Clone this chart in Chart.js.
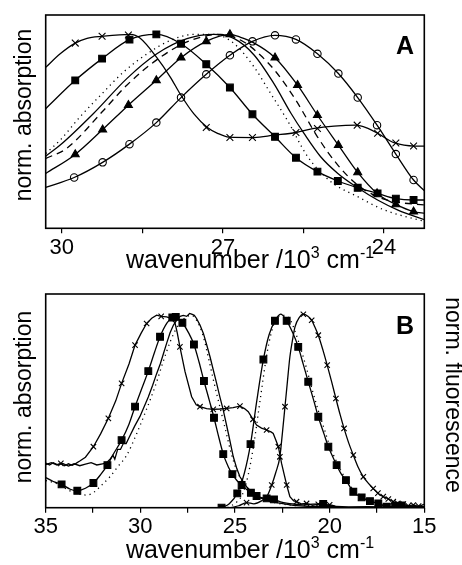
<!DOCTYPE html>
<html>
<head>
<meta charset="utf-8">
<title>Absorption and fluorescence spectra</title>
<script src="https://cdn.jsdelivr.net/npm/chart.js@4.4.1/dist/chart.umd.min.js"></script>
<style>
  html, body { margin: 0; padding: 0; background: #fff; }
  #wrap { position: relative; width: 462px; height: 565px; overflow: hidden; }
  .panel { position: absolute; left: 0; }
</style>
</head>
<body>
<div id="wrap">
  <canvas id="chartA" class="panel" width="462" height="280" style="top:0"></canvas>
  <canvas id="chartB" class="panel" width="462" height="285" style="top:280px"></canvas>
</div>
<script>
// ---- Panel A: absorption, wavenumber (10^3 cm-1) vs normalised absorption ----
const aTicks = [30, 28.5, 27, 25.5, 24];
const aTickLabels = ['30', '', '27', '', '24'];

const aCrossLine = [[30.30,0.83],[30.03,0.90],[29.75,0.955],[29.53,0.98],[29.25,0.99],[28.72,1.0],[28.54,0.98],[28.23,0.88],[27.98,0.78],[27.79,0.69],[27.54,0.59],[27.29,0.52],[27.10,0.49],[26.89,0.47],[26.42,0.468],[26.05,0.48],[25.64,0.494],[25.30,0.515],[24.93,0.527],[24.52,0.532],[24.30,0.515],[24.12,0.49],[23.80,0.44],[23.43,0.424],[23.23,0.424]];
const aCrossMarks = [[29.75,0.955],[29.25,0.99],[28.76,0.997],[27.31,0.52],[26.87,0.468],[26.45,0.468],[25.64,0.494],[25.24,0.515],[24.50,0.532],[24.12,0.49],[23.78,0.44],[23.45,0.424]];

const aSquareLine = [[30.30,0.617],[29.75,0.763],[29.25,0.875],[28.74,0.973],[28.24,1.0],[27.78,0.952],[27.31,0.846],[26.87,0.726],[26.45,0.588],[26.03,0.472],[25.64,0.364],[25.24,0.292],[24.86,0.244],[24.49,0.209],[24.12,0.180],[23.78,0.153],[23.45,0.146],[23.23,0.146]];
const aSquareMarks = [[29.75,0.763],[29.25,0.875],[28.74,0.973],[28.24,1.0],[27.78,0.952],[27.31,0.846],[26.87,0.726],[26.45,0.588],[26.03,0.472],[25.64,0.364],[25.24,0.292],[24.86,0.244],[24.49,0.209],[24.12,0.180],[23.78,0.153],[23.45,0.146]];

const aTriangleLine = [[30.30,0.283],[29.75,0.381],[29.24,0.509],[28.76,0.635],[28.24,0.763],[27.78,0.880],[27.31,0.964],[26.87,1.0],[26.67,0.985],[26.45,0.96],[26.03,0.880],[25.61,0.738],[25.24,0.583],[24.85,0.429],[24.49,0.288],[24.13,0.180],[23.78,0.123],[23.45,0.086],[23.23,0.077]];
const aTriangleMarks = [[29.75,0.381],[29.24,0.509],[28.76,0.635],[28.24,0.763],[27.78,0.880],[27.31,0.964],[26.87,1.0],[26.03,0.880],[25.61,0.738],[25.24,0.583],[24.85,0.429],[24.49,0.288],[24.13,0.180],[23.78,0.123],[23.45,0.086]];

const aCircleLine = [[30.30,0.211],[29.77,0.262],[29.24,0.340],[28.74,0.434],[28.24,0.545],[27.78,0.674],[27.31,0.794],[26.87,0.892],[26.45,0.964],[26.03,0.995],[25.64,0.974],[25.24,0.900],[24.85,0.798],[24.49,0.674],[24.13,0.532],[23.78,0.383],[23.45,0.249],[23.23,0.189]];
const aCircleMarks = [[29.77,0.262],[29.24,0.340],[28.74,0.434],[28.24,0.545],[27.78,0.674],[27.31,0.794],[26.87,0.892],[26.45,0.964],[26.03,0.995],[25.64,0.974],[25.24,0.900],[24.85,0.798],[24.49,0.674],[24.13,0.532],[23.78,0.383],[23.45,0.249]];

const aSolidLine = [[30.30,0.372],[30.03,0.429],[29.41,0.592],[28.79,0.772],[28.23,0.900],[27.67,0.978],[27.17,1.0],[26.79,0.978],[26.42,0.894],[26.05,0.746],[25.73,0.592],[25.49,0.489],[25.18,0.369],[24.86,0.283],[24.49,0.209],[24.12,0.146],[23.74,0.094],[23.23,0.043]];
const aDashedLine = [[30.30,0.360],[29.91,0.412],[29.22,0.609],[28.79,0.738],[28.16,0.883],[27.60,0.969],[27.04,1.0],[26.61,0.961],[26.30,0.892],[26.01,0.806],[25.64,0.660],[25.24,0.472],[24.86,0.326],[24.49,0.223],[24.12,0.163],[23.80,0.137],[23.23,0.120]];
const aDottedLine = [[30.30,0.386],[30.03,0.455],[29.66,0.575],[29.28,0.686],[28.85,0.806],[28.41,0.900],[27.98,0.969],[27.54,1.0],[27.17,1.0],[26.79,0.952],[26.42,0.832],[26.11,0.695],[25.80,0.557],[25.42,0.369],[24.99,0.240],[24.49,0.163],[23.99,0.094],[23.23,0.034]];

// ---- Panel B: absorption (left) and fluorescence (right) ----
const bTicks = [35, 32.5, 30, 27.5, 25, 22.5, 20, 17.5, 15];
const bTickLabels = ['35', '', '30', '', '25', '', '20', '', '15'];

const bCrossAbsLine = [[35.0,0.23],[34.8,0.22],[34.6,0.232],[34.4,0.222],[34.2,0.228],[34.0,0.216],[33.8,0.226],[33.6,0.218],[33.4,0.228],[33.2,0.24],[32.9,0.26],[32.48,0.314],[32.1,0.38],[31.69,0.46],[31.3,0.55],[30.99,0.64],[30.6,0.74],[30.28,0.837],[29.95,0.9],[29.67,0.948],[29.4,0.975],[29.14,0.991],[28.9,0.985],[28.61,0.982],[28.4,0.975],[28.17,0.952],[28.05,0.9],[27.91,0.828],[27.64,0.70],[27.29,0.571],[27.05,0.53],[26.85,0.52],[26.5,0.51],[26.15,0.506],[25.8,0.508],[25.44,0.511],[25.1,0.515],[24.74,0.523],[24.5,0.51],[24.30,0.494],[24.05,0.455],[23.86,0.425],[23.6,0.41],[23.33,0.40],[23.1,0.39],[22.98,0.382],[22.85,0.35],[22.71,0.314],[22.54,0.228],[22.4,0.17],[22.27,0.117],[22.10,0.057],[21.9,0.035],[21.75,0.031],[21.5,0.02],[21.22,0.022],[20.9,0.012],[20.6,0.018],[20.3,0.01],[20.0,0.015],[19.7,0.008]];
const bCrossAbsMarks = [[34.2,0.228],[32.48,0.314],[31.69,0.46],[30.99,0.64],[30.28,0.837],[29.67,0.948],[28.9,0.985],[27.91,0.828],[26.85,0.52],[26.15,0.506],[25.44,0.511],[24.74,0.523],[24.05,0.455],[23.33,0.40],[22.71,0.314],[22.27,0.117],[21.75,0.031],[21.22,0.022],[20.6,0.018],[20.0,0.015]];

const bSquareAbsLine = [[35.0,0.155],[34.6,0.135],[34.16,0.12],[33.7,0.095],[33.33,0.087],[32.9,0.1],[32.48,0.127],[32.1,0.17],[31.74,0.219],[31.4,0.28],[30.99,0.348],[30.6,0.43],[30.28,0.52],[29.9,0.62],[29.58,0.703],[29.25,0.8],[28.96,0.88],[28.6,0.95],[28.31,0.979],[28.13,0.982],[27.95,0.97],[27.78,0.952],[27.45,0.9],[27.17,0.84],[26.9,0.75],[26.64,0.652],[26.35,0.55],[26.11,0.463],[25.85,0.36],[25.62,0.276],[25.35,0.21],[25.14,0.173],[24.9,0.14],[24.65,0.117],[24.4,0.095],[24.16,0.077],[23.86,0.06],[23.6,0.052],[23.33,0.048],[22.94,0.043],[22.6,0.03],[22.2,0.022],[21.92,0.019],[21.4,0.015],[20.9,0.018],[20.34,0.019],[20.0,0.012]];
const bSquareAbsMarks = [[34.16,0.12],[33.33,0.087],[32.48,0.127],[31.74,0.219],[30.99,0.348],[30.28,0.52],[29.58,0.703],[28.96,0.88],[28.31,0.979],[28.13,0.982],[27.78,0.952],[27.17,0.84],[26.64,0.652],[26.11,0.463],[25.62,0.276],[25.14,0.173],[24.65,0.117],[24.16,0.077],[23.86,0.06],[23.33,0.048],[22.94,0.043],[20.34,0.019]];

const bNoisyAbsLine = [[35.0,0.222],[34.7,0.232],[34.4,0.22],[34.1,0.228],[33.8,0.214],[33.5,0.226],[33.2,0.216],[32.9,0.224],[32.6,0.232],[32.3,0.22],[32.0,0.226],[31.8,0.23],[31.6,0.25],[31.45,0.27],[31.35,0.25],[31.2,0.3],[31.05,0.3],[30.9,0.33],[30.75,0.33],[30.55,0.37],[30.3,0.42],[30.02,0.47],[29.8,0.52],[29.58,0.57],[29.35,0.63],[29.14,0.69],[28.95,0.74],[28.79,0.79],[28.6,0.85],[28.43,0.9],[28.25,0.94],[28.08,0.965],[27.9,0.985],[27.73,0.99],[27.55,0.985],[27.4,1.0],[27.29,0.996],[27.15,0.99],[27.03,0.974],[26.85,0.94],[26.67,0.897],[26.5,0.84],[26.32,0.777],[26.15,0.71],[25.97,0.64],[25.8,0.57],[25.62,0.502],[25.35,0.382],[25.09,0.262],[24.9,0.2],[24.74,0.159],[24.39,0.108],[23.86,0.057],[23.33,0.039],[22.8,0.026],[21.92,0.012],[21.0,0.006],[20.0,0.008],[19.0,0.004],[18.0,0.006],[17.0,0.004],[16.0,0.006],[15.0,0.005]];
const bDottedAbsLine = [[35.0,0.14],[34.6,0.13],[34.25,0.117],[33.8,0.09],[33.36,0.074],[32.84,0.065],[32.45,0.08],[32.13,0.108],[31.6,0.16],[31.2,0.21],[30.72,0.27],[30.2,0.38],[29.7,0.5],[29.2,0.63],[28.8,0.75],[28.4,0.86],[28.0,0.94],[27.6,0.98],[27.3,0.99],[27.0,0.96],[26.7,0.89],[26.4,0.77],[26.1,0.64],[25.8,0.52],[25.5,0.4],[25.2,0.28],[24.9,0.19],[24.5,0.12],[24.0,0.07],[23.4,0.04],[22.6,0.02],[21.8,0.01]];

const bSquareFlLine = [[25.71,0.0],[25.3,0.02],[24.88,0.074],[24.5,0.18],[24.18,0.327],[23.85,0.55],[23.50,0.763],[23.2,0.89],[22.89,0.962],[22.59,0.996],[22.27,0.962],[21.95,0.9],[21.66,0.828],[21.4,0.74],[21.13,0.648],[20.85,0.555],[20.60,0.468],[20.3,0.38],[20.07,0.314],[19.85,0.265],[19.63,0.219],[19.4,0.175],[19.14,0.142],[18.75,0.082],[18.31,0.053],[17.87,0.034],[17.43,0.022],[16.98,0.005],[16.54,0.009],[16.2,0.012],[16.0,0.01]];
const bSquareFlMarks = [[25.71,0.0],[24.88,0.074],[24.18,0.327],[23.50,0.763],[22.89,0.962],[22.27,0.962],[21.66,0.828],[21.13,0.648],[20.60,0.468],[20.07,0.314],[19.63,0.219],[19.14,0.142],[18.75,0.082],[18.31,0.053],[17.87,0.034],[17.43,0.022],[16.98,0.005],[16.54,0.009],[16.2,0.012]];

const bCrossFlLine = [[25.2,0.0],[24.8,0.01],[24.39,0.026],[24.0,0.02],[23.6,0.035],[23.3,0.06],[23.06,0.117],[22.85,0.18],[22.63,0.262],[22.5,0.38],[22.36,0.52],[22.23,0.65],[22.10,0.777],[21.95,0.87],[21.83,0.931],[21.6,0.98],[21.39,0.996],[21.15,0.985],[20.95,0.965],[20.78,0.93],[20.60,0.888],[20.35,0.81],[20.13,0.734],[19.9,0.65],[19.67,0.562],[19.45,0.48],[19.24,0.408],[19.0,0.335],[18.75,0.271],[18.5,0.21],[18.22,0.159],[17.95,0.125],[17.70,0.099],[17.45,0.075],[17.17,0.057],[16.9,0.045],[16.64,0.031],[16.4,0.022],[16.11,0.019],[15.85,0.01],[15.58,0.014],[15.3,0.008],[15.02,0.017]];
const bCrossFlMarks = [[24.39,0.026],[23.06,0.117],[22.63,0.262],[22.36,0.52],[21.39,0.996],[20.95,0.965],[20.60,0.888],[20.13,0.734],[19.67,0.562],[19.24,0.408],[18.75,0.271],[18.22,0.159],[17.70,0.099],[17.45,0.075],[17.17,0.057],[16.9,0.045],[16.64,0.031],[16.4,0.022],[16.11,0.019],[15.85,0.01],[15.58,0.014],[15.3,0.008]];

const bDottedFlLine = [[25.4,0.0],[24.9,0.03],[24.6,0.07],[24.3,0.17],[24.0,0.33],[23.65,0.57],[23.3,0.8],[23.0,0.93],[22.7,0.985],[22.45,0.99],[22.1,0.97],[21.8,0.9],[21.5,0.81],[21.2,0.71],[20.9,0.6],[20.6,0.5],[20.3,0.41],[20.0,0.32],[19.7,0.25],[19.4,0.19],[19.1,0.14],[18.8,0.1],[18.4,0.065],[18.0,0.04],[17.5,0.025],[17.0,0.014],[16.4,0.008]];

const FONT = "'Liberation Sans', Arial, Helvetica, sans-serif";

// Helpers
function pts(list) {
    return list.map(p => ({ x: p[0], y: p[1] }));
}

function curve(list, opts = {}) {
    return {
        data: pts(list),
        showLine: true,
        borderColor: '#000',
        borderWidth: opts.width || 1.3,
        borderDash: opts.dash || [],
        pointRadius: 0,
        fill: false,
        tension: opts.noisy ? 0 : 0.4,
        cubicInterpolationMode: opts.noisy ? 'default' : 'monotone'
    };
}

function marks(list, style, radius, filled) {
    return {
        data: pts(list),
        showLine: false,
        pointStyle: style,
        pointRadius: radius,
        pointHoverRadius: radius,
        pointBorderColor: '#000',
        pointBackgroundColor: filled ? '#000' : '#fff',
        pointBorderWidth: 1.1
    };
}

// Box round the plot area
const framePlugin = {
    id: 'frame',
    afterDatasetsDraw(chart) {
        const { ctx, chartArea: a } = chart;
        ctx.save();
        ctx.strokeStyle = '#000';
        ctx.lineWidth = 1.6;
        ctx.strokeRect(a.left, a.top, a.right - a.left, a.bottom - a.top);
        ctx.restore();
    }
};

// Axis title with superscripts
function drawUnitTitle(ctx, cx, y, size) {
    const sup = Math.round(size * 0.62);
    const rise = size * 0.4;
    const parts = [
        ['wavenumber /10', size, 0],
        ['3', sup, rise],
        [' cm', size, 0],
        ['-1', sup, rise]
    ];
    let total = 0;
    parts.forEach(p => {
        ctx.font = p[1] + 'px ' + FONT;
        total += ctx.measureText(p[0]).width;
    });
    let x = cx - total / 2;
    ctx.textAlign = 'left';
    ctx.textBaseline = 'alphabetic';
    parts.forEach(p => {
        ctx.font = p[1] + 'px ' + FONT;
        ctx.fillText(p[0], x, y - p[2]);
        x += ctx.measureText(p[0]).width;
    });
}

function drawRotated(ctx, text, x, y, angle, size) {
    ctx.save();
    ctx.translate(x, y);
    ctx.rotate(angle);
    ctx.font = size + 'px ' + FONT;
    ctx.textAlign = 'center';
    ctx.textBaseline = 'middle';
    ctx.fillText(text, 0, 0);
    ctx.restore();
}

const textPlugin = {
    id: 'panelText',
    afterDraw(chart, args, o) {
        const ctx = chart.ctx;
        ctx.save();
        ctx.fillStyle = '#000';
        ctx.font = 'bold 25px ' + FONT;
        ctx.textAlign = 'center';
        ctx.textBaseline = 'alphabetic';
        ctx.fillText(o.letter, o.letterX, o.letterY);
        drawUnitTitle(ctx, o.titleX, o.titleY, 25);
        drawRotated(ctx, 'norm. absorption', 25, o.leftY, -Math.PI / 2, 23);
        if (o.rightLabel) {
            drawRotated(ctx, o.rightLabel, 452, o.rightY, Math.PI / 2, 23);
        }
        ctx.restore();
    }
};

function buildPanel(canvasId, cfg) {
    const ctx = document.getElementById(canvasId).getContext('2d');
    return new Chart(ctx, {
        type: 'scatter',
        data: { datasets: cfg.datasets },
        options: {
            responsive: false,
            animation: false,
            events: [],
            layout: { padding: cfg.padding },
            plugins: {
                legend: { display: false },
                tooltip: { enabled: false },
                panelText: cfg.text
            },
            scales: {
                x: {
                    type: 'linear',
                    reverse: true,
                    min: cfg.xMin,
                    max: cfg.xMax,
                    afterBuildTicks: (s) => { s.ticks = cfg.ticks.map(v => ({ value: v })); },
                    afterFit: (s) => { s.height = cfg.axisHeight; },
                    border: { display: false },
                    grid: { drawOnChartArea: false, drawTicks: true, tickLength: 5, color: '#000', lineWidth: 1.2 },
                    ticks: {
                        autoSkip: false,
                        maxRotation: 0,
                        padding: 1,
                        color: '#000',
                        font: { family: FONT, size: 22 },
                        callback: (v, i) => cfg.tickLabels[i]
                    }
                },
                y: { display: false, min: 0, max: 1.1 }
            }
        },
        plugins: [framePlugin, textPlugin]
    });
}

buildPanel('chartA', {
    xMin: 23.25, xMax: 30.30,
    ticks: aTicks, tickLabels: aTickLabels,
    padding: { left: 45.7, right: 37.7, top: 15, bottom: 0 },
    axisHeight: 51.7,
    text: { letter: 'A', letterX: 405, letterY: 54, titleX: 250, titleY: 268, leftY: 115 },
    datasets: [
        curve(aDottedLine, { dash: [1.2, 4], width: 1.3 }),
        curve(aDashedLine, { dash: [7, 5] }),
        curve(aSolidLine),
        curve(aCrossLine),
        curve(aSquareLine),
        curve(aTriangleLine),
        curve(aCircleLine),
        marks(aCrossMarks, 'crossRot', 4.8, true),
        marks(aSquareMarks, 'rect', 4.8, true),
        marks(aTriangleMarks, 'triangle', 4.6, true),
        marks(aCircleMarks, 'circle', 3.7, false)
    ]
});

buildPanel('chartB', {
    xMin: 15, xMax: 35,
    ticks: bTicks, tickLabels: bTickLabels,
    padding: { left: 45.7, right: 37.7, top: 14, bottom: 0 },
    axisHeight: 57.3,
    text: { letter: 'B', letterX: 405, letterY: 54, titleX: 250, titleY: 278, leftY: 117, rightLabel: 'norm. fluorescence', rightY: 115 },
    datasets: [
        curve(bDottedAbsLine, { dash: [1.2, 4], width: 1.3 }),
        curve(bDottedFlLine, { dash: [1.2, 4], width: 1.3 }),
        curve(bNoisyAbsLine, { noisy: true }),
        curve(bCrossAbsLine, { noisy: true }),
        curve(bSquareAbsLine),
        curve(bSquareFlLine),
        curve(bCrossFlLine),
        marks(bCrossAbsMarks, 'crossRot', 3.8, true),
        marks(bSquareAbsMarks, 'rect', 4.8, true),
        marks(bSquareFlMarks, 'rect', 4.8, true),
        marks(bCrossFlMarks, 'crossRot', 3.8, true)
    ]
});
</script>
</body>
</html>
